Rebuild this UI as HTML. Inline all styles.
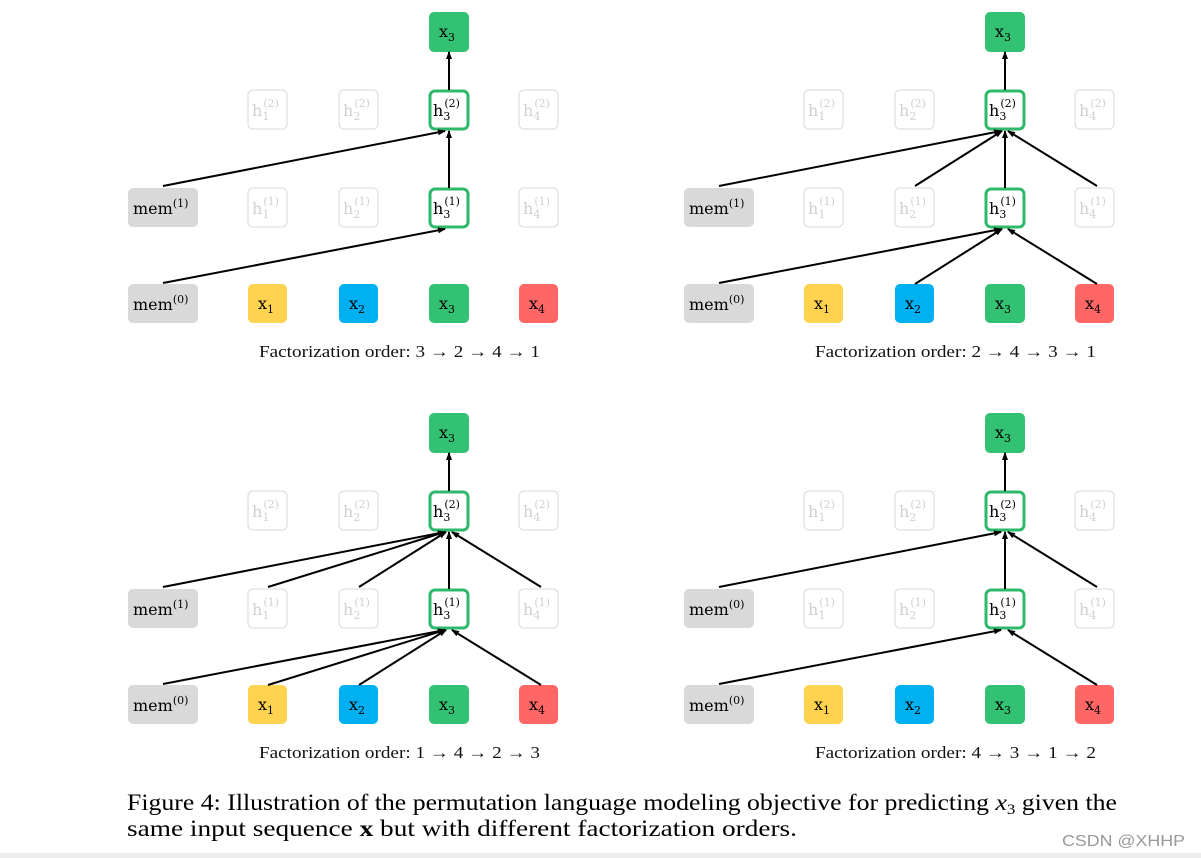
<!DOCTYPE html>
<html><head><meta charset="utf-8"><style>
html,body{margin:0;padding:0;background:#fff;width:1201px;height:858px;overflow:hidden}
svg{display:block}
.n{font-family:"DejaVu Serif","Liberation Serif",serif;font-size:16px}
.f{fill:#d0d0d0}
.cap{font-family:"Liberation Serif",serif;font-size:17px;fill:#111}
line{stroke:#000;stroke-width:2;marker-end:url(#a)}
.fb{fill:#fff;stroke:#e0e0e0;stroke-width:1.3}
.hb{fill:#fff;stroke:#2eb86a;stroke-width:3}
</style></head><body>
<svg width="1201" height="858" viewBox="0 0 1201 858" xmlns="http://www.w3.org/2000/svg">
<defs><marker id="a" markerWidth="8" markerHeight="6" refX="7" refY="3" orient="auto" markerUnits="userSpaceOnUse"><path d="M0,0 L8,3 L0,6 z" fill="#000"/></marker></defs>

<!-- Panel TL -->
<g>
<rect x="429" y="12" width="40" height="40" rx="5" fill="#33c173"/><text class="n" x="439" y="37">x<tspan font-size="11" dy="4">3</tspan></text>
<rect class="fb" x="248" y="90" width="39" height="39" rx="5"/><text class="n f" x="252" y="116">h<tspan font-size="11" dy="4">1</tspan><tspan font-size="11" dx="-6" dy="-13">(2)</tspan></text>
<rect class="fb" x="339" y="90" width="39" height="39" rx="5"/><text class="n f" x="343" y="116">h<tspan font-size="11" dy="4">2</tspan><tspan font-size="11" dx="-6" dy="-13">(2)</tspan></text>
<rect class="fb" x="519" y="90" width="39" height="39" rx="5"/><text class="n f" x="523" y="116">h<tspan font-size="11" dy="4">4</tspan><tspan font-size="11" dx="-6" dy="-13">(2)</tspan></text>
<rect class="hb" x="430" y="91" width="38" height="38" rx="5"/><text class="n" x="433" y="116">h<tspan font-size="11" dy="4">3</tspan><tspan font-size="11" dx="-6" dy="-13">(2)</tspan></text>
<rect x="128" y="188" width="70" height="39" rx="5" fill="#d9d9d9"/><text class="n" x="133" y="214">mem<tspan font-size="11" dy="-7">(1)</tspan></text>
<rect class="fb" x="248" y="188" width="39" height="39" rx="5"/><text class="n f" x="252" y="214">h<tspan font-size="11" dy="4">1</tspan><tspan font-size="11" dx="-6" dy="-13">(1)</tspan></text>
<rect class="fb" x="339" y="188" width="39" height="39" rx="5"/><text class="n f" x="343" y="214">h<tspan font-size="11" dy="4">2</tspan><tspan font-size="11" dx="-6" dy="-13">(1)</tspan></text>
<rect class="fb" x="519" y="188" width="39" height="39" rx="5"/><text class="n f" x="523" y="214">h<tspan font-size="11" dy="4">4</tspan><tspan font-size="11" dx="-6" dy="-13">(1)</tspan></text>
<rect class="hb" x="430" y="189" width="38" height="38" rx="5"/><text class="n" x="433" y="214">h<tspan font-size="11" dy="4">3</tspan><tspan font-size="11" dx="-6" dy="-13">(1)</tspan></text>
<rect x="128" y="284" width="70" height="39" rx="5" fill="#d9d9d9"/><text class="n" x="133" y="310">mem<tspan font-size="11" dy="-7">(0)</tspan></text>
<rect x="248" y="284" width="39" height="39" rx="5" fill="#ffd34f"/><text class="n" x="258" y="309">x<tspan font-size="11" dy="4">1</tspan></text>
<rect x="339" y="284" width="39" height="39" rx="5" fill="#00b0f0"/><text class="n" x="349" y="309">x<tspan font-size="11" dy="4">2</tspan></text>
<rect x="429" y="284" width="40" height="39" rx="5" fill="#33c173"/><text class="n" x="439" y="309">x<tspan font-size="11" dy="4">3</tspan></text>
<rect x="519" y="284" width="39" height="39" rx="5" fill="#ff6666"/><text class="n" x="529" y="309">x<tspan font-size="11" dy="4">4</tspan></text>
<line x1="449" y1="90" x2="449" y2="52"/>
<line x1="449" y1="188" x2="449" y2="131"/>
<line x1="163" y1="186" x2="445" y2="131"/>
<line x1="163" y1="283" x2="445" y2="229"/>
<text class="cap" x="259" y="357" textLength="281" lengthAdjust="spacingAndGlyphs">Factorization order: 3 → 2 → 4 → 1</text>
</g>

<!-- Panel TR -->
<g transform="translate(556,0)">
<rect x="429" y="12" width="40" height="40" rx="5" fill="#33c173"/><text class="n" x="439" y="37">x<tspan font-size="11" dy="4">3</tspan></text>
<rect class="fb" x="248" y="90" width="39" height="39" rx="5"/><text class="n f" x="252" y="116">h<tspan font-size="11" dy="4">1</tspan><tspan font-size="11" dx="-6" dy="-13">(2)</tspan></text>
<rect class="fb" x="339" y="90" width="39" height="39" rx="5"/><text class="n f" x="343" y="116">h<tspan font-size="11" dy="4">2</tspan><tspan font-size="11" dx="-6" dy="-13">(2)</tspan></text>
<rect class="fb" x="519" y="90" width="39" height="39" rx="5"/><text class="n f" x="523" y="116">h<tspan font-size="11" dy="4">4</tspan><tspan font-size="11" dx="-6" dy="-13">(2)</tspan></text>
<rect class="hb" x="430" y="91" width="38" height="38" rx="5"/><text class="n" x="433" y="116">h<tspan font-size="11" dy="4">3</tspan><tspan font-size="11" dx="-6" dy="-13">(2)</tspan></text>
<rect x="128" y="188" width="70" height="39" rx="5" fill="#d9d9d9"/><text class="n" x="133" y="214">mem<tspan font-size="11" dy="-7">(1)</tspan></text>
<rect class="fb" x="248" y="188" width="39" height="39" rx="5"/><text class="n f" x="252" y="214">h<tspan font-size="11" dy="4">1</tspan><tspan font-size="11" dx="-6" dy="-13">(1)</tspan></text>
<rect class="fb" x="339" y="188" width="39" height="39" rx="5"/><text class="n f" x="343" y="214">h<tspan font-size="11" dy="4">2</tspan><tspan font-size="11" dx="-6" dy="-13">(1)</tspan></text>
<rect class="fb" x="519" y="188" width="39" height="39" rx="5"/><text class="n f" x="523" y="214">h<tspan font-size="11" dy="4">4</tspan><tspan font-size="11" dx="-6" dy="-13">(1)</tspan></text>
<rect class="hb" x="430" y="189" width="38" height="38" rx="5"/><text class="n" x="433" y="214">h<tspan font-size="11" dy="4">3</tspan><tspan font-size="11" dx="-6" dy="-13">(1)</tspan></text>
<rect x="128" y="284" width="70" height="39" rx="5" fill="#d9d9d9"/><text class="n" x="133" y="310">mem<tspan font-size="11" dy="-7">(0)</tspan></text>
<rect x="248" y="284" width="39" height="39" rx="5" fill="#ffd34f"/><text class="n" x="258" y="309">x<tspan font-size="11" dy="4">1</tspan></text>
<rect x="339" y="284" width="39" height="39" rx="5" fill="#00b0f0"/><text class="n" x="349" y="309">x<tspan font-size="11" dy="4">2</tspan></text>
<rect x="429" y="284" width="40" height="39" rx="5" fill="#33c173"/><text class="n" x="439" y="309">x<tspan font-size="11" dy="4">3</tspan></text>
<rect x="519" y="284" width="39" height="39" rx="5" fill="#ff6666"/><text class="n" x="529" y="309">x<tspan font-size="11" dy="4">4</tspan></text>
<line x1="449" y1="90" x2="449" y2="52"/>
<line x1="449" y1="188" x2="449" y2="131"/>
<line x1="163" y1="186" x2="445" y2="131"/>
<line x1="359" y1="186" x2="446" y2="131"/>
<line x1="541" y1="186" x2="452" y2="131"/>
<line x1="163" y1="283" x2="445" y2="229"/>
<line x1="359" y1="284" x2="446" y2="229"/>
<line x1="541" y1="284" x2="452" y2="229"/>
<text class="cap" x="259" y="357" textLength="281" lengthAdjust="spacingAndGlyphs">Factorization order: 2 → 4 → 3 → 1</text>
</g>

<!-- Panel BL -->
<g transform="translate(0,401)">
<rect x="429" y="12" width="40" height="40" rx="5" fill="#33c173"/><text class="n" x="439" y="37">x<tspan font-size="11" dy="4">3</tspan></text>
<rect class="fb" x="248" y="90" width="39" height="39" rx="5"/><text class="n f" x="252" y="116">h<tspan font-size="11" dy="4">1</tspan><tspan font-size="11" dx="-6" dy="-13">(2)</tspan></text>
<rect class="fb" x="339" y="90" width="39" height="39" rx="5"/><text class="n f" x="343" y="116">h<tspan font-size="11" dy="4">2</tspan><tspan font-size="11" dx="-6" dy="-13">(2)</tspan></text>
<rect class="fb" x="519" y="90" width="39" height="39" rx="5"/><text class="n f" x="523" y="116">h<tspan font-size="11" dy="4">4</tspan><tspan font-size="11" dx="-6" dy="-13">(2)</tspan></text>
<rect class="hb" x="430" y="91" width="38" height="38" rx="5"/><text class="n" x="433" y="116">h<tspan font-size="11" dy="4">3</tspan><tspan font-size="11" dx="-6" dy="-13">(2)</tspan></text>
<rect x="128" y="188" width="70" height="39" rx="5" fill="#d9d9d9"/><text class="n" x="133" y="214">mem<tspan font-size="11" dy="-7">(1)</tspan></text>
<rect class="fb" x="248" y="188" width="39" height="39" rx="5"/><text class="n f" x="252" y="214">h<tspan font-size="11" dy="4">1</tspan><tspan font-size="11" dx="-6" dy="-13">(1)</tspan></text>
<rect class="fb" x="339" y="188" width="39" height="39" rx="5"/><text class="n f" x="343" y="214">h<tspan font-size="11" dy="4">2</tspan><tspan font-size="11" dx="-6" dy="-13">(1)</tspan></text>
<rect class="fb" x="519" y="188" width="39" height="39" rx="5"/><text class="n f" x="523" y="214">h<tspan font-size="11" dy="4">4</tspan><tspan font-size="11" dx="-6" dy="-13">(1)</tspan></text>
<rect class="hb" x="430" y="189" width="38" height="38" rx="5"/><text class="n" x="433" y="214">h<tspan font-size="11" dy="4">3</tspan><tspan font-size="11" dx="-6" dy="-13">(1)</tspan></text>
<rect x="128" y="284" width="70" height="39" rx="5" fill="#d9d9d9"/><text class="n" x="133" y="310">mem<tspan font-size="11" dy="-7">(0)</tspan></text>
<rect x="248" y="284" width="39" height="39" rx="5" fill="#ffd34f"/><text class="n" x="258" y="309">x<tspan font-size="11" dy="4">1</tspan></text>
<rect x="339" y="284" width="39" height="39" rx="5" fill="#00b0f0"/><text class="n" x="349" y="309">x<tspan font-size="11" dy="4">2</tspan></text>
<rect x="429" y="284" width="40" height="39" rx="5" fill="#33c173"/><text class="n" x="439" y="309">x<tspan font-size="11" dy="4">3</tspan></text>
<rect x="519" y="284" width="39" height="39" rx="5" fill="#ff6666"/><text class="n" x="529" y="309">x<tspan font-size="11" dy="4">4</tspan></text>
<line x1="449" y1="90" x2="449" y2="52"/>
<line x1="449" y1="188" x2="449" y2="131"/>
<line x1="163" y1="186" x2="445" y2="131"/>
<line x1="268" y1="186" x2="445" y2="131"/>
<line x1="359" y1="186" x2="446" y2="131"/>
<line x1="541" y1="186" x2="452" y2="131"/>
<line x1="163" y1="283" x2="445" y2="229"/>
<line x1="268" y1="284" x2="445" y2="229"/>
<line x1="359" y1="284" x2="446" y2="229"/>
<line x1="541" y1="284" x2="452" y2="229"/>
<text class="cap" x="259" y="357" textLength="281" lengthAdjust="spacingAndGlyphs">Factorization order: 1 → 4 → 2 → 3</text>
</g>

<!-- Panel BR -->
<g transform="translate(556,401)">
<rect x="429" y="12" width="40" height="40" rx="5" fill="#33c173"/><text class="n" x="439" y="37">x<tspan font-size="11" dy="4">3</tspan></text>
<rect class="fb" x="248" y="90" width="39" height="39" rx="5"/><text class="n f" x="252" y="116">h<tspan font-size="11" dy="4">1</tspan><tspan font-size="11" dx="-6" dy="-13">(2)</tspan></text>
<rect class="fb" x="339" y="90" width="39" height="39" rx="5"/><text class="n f" x="343" y="116">h<tspan font-size="11" dy="4">2</tspan><tspan font-size="11" dx="-6" dy="-13">(2)</tspan></text>
<rect class="fb" x="519" y="90" width="39" height="39" rx="5"/><text class="n f" x="523" y="116">h<tspan font-size="11" dy="4">4</tspan><tspan font-size="11" dx="-6" dy="-13">(2)</tspan></text>
<rect class="hb" x="430" y="91" width="38" height="38" rx="5"/><text class="n" x="433" y="116">h<tspan font-size="11" dy="4">3</tspan><tspan font-size="11" dx="-6" dy="-13">(2)</tspan></text>
<rect x="128" y="188" width="70" height="39" rx="5" fill="#d9d9d9"/><text class="n" x="133" y="214">mem<tspan font-size="11" dy="-7">(0)</tspan></text>
<rect class="fb" x="248" y="188" width="39" height="39" rx="5"/><text class="n f" x="252" y="214">h<tspan font-size="11" dy="4">1</tspan><tspan font-size="11" dx="-6" dy="-13">(1)</tspan></text>
<rect class="fb" x="339" y="188" width="39" height="39" rx="5"/><text class="n f" x="343" y="214">h<tspan font-size="11" dy="4">2</tspan><tspan font-size="11" dx="-6" dy="-13">(1)</tspan></text>
<rect class="fb" x="519" y="188" width="39" height="39" rx="5"/><text class="n f" x="523" y="214">h<tspan font-size="11" dy="4">4</tspan><tspan font-size="11" dx="-6" dy="-13">(1)</tspan></text>
<rect class="hb" x="430" y="189" width="38" height="38" rx="5"/><text class="n" x="433" y="214">h<tspan font-size="11" dy="4">3</tspan><tspan font-size="11" dx="-6" dy="-13">(1)</tspan></text>
<rect x="128" y="284" width="70" height="39" rx="5" fill="#d9d9d9"/><text class="n" x="133" y="310">mem<tspan font-size="11" dy="-7">(0)</tspan></text>
<rect x="248" y="284" width="39" height="39" rx="5" fill="#ffd34f"/><text class="n" x="258" y="309">x<tspan font-size="11" dy="4">1</tspan></text>
<rect x="339" y="284" width="39" height="39" rx="5" fill="#00b0f0"/><text class="n" x="349" y="309">x<tspan font-size="11" dy="4">2</tspan></text>
<rect x="429" y="284" width="40" height="39" rx="5" fill="#33c173"/><text class="n" x="439" y="309">x<tspan font-size="11" dy="4">3</tspan></text>
<rect x="519" y="284" width="39" height="39" rx="5" fill="#ff6666"/><text class="n" x="529" y="309">x<tspan font-size="11" dy="4">4</tspan></text>
<line x1="449" y1="90" x2="449" y2="52"/>
<line x1="449" y1="188" x2="449" y2="131"/>
<line x1="163" y1="186" x2="445" y2="131"/>
<line x1="541" y1="186" x2="452" y2="131"/>
<line x1="163" y1="283" x2="445" y2="229"/>
<line x1="541" y1="284" x2="452" y2="229"/>
<text class="cap" x="259" y="357" textLength="281" lengthAdjust="spacingAndGlyphs">Factorization order: 4 → 3 → 1 → 2</text>
</g>

<text font-family="Liberation Serif, serif" font-size="23" x="127" y="810" fill="#000" textLength="990" lengthAdjust="spacingAndGlyphs">Figure 4: Illustration of the permutation language modeling objective for predicting <tspan font-style="italic">x</tspan><tspan font-size="15" dy="4">3</tspan><tspan dy="-4"> given the</tspan></text>
<text font-family="Liberation Serif, serif" font-size="23" x="127" y="836" fill="#000" textLength="670" lengthAdjust="spacingAndGlyphs">same input sequence <tspan font-weight="bold">x</tspan> but with different factorization orders.</text>
<text font-family="Liberation Sans, sans-serif" font-size="16" x="1062" y="846" fill="#999" textLength="123" lengthAdjust="spacingAndGlyphs">CSDN @XHHP</text>
<rect x="0" y="853" width="1201" height="5" fill="#ececec"/>
</svg>
</body></html>
